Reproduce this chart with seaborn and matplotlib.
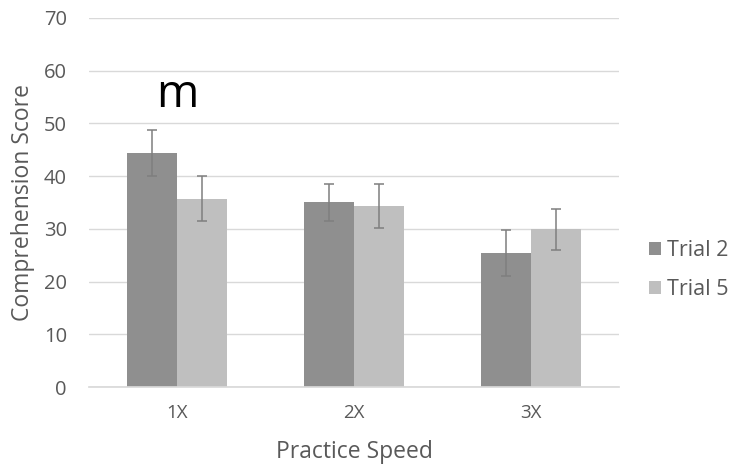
import matplotlib
matplotlib.use("Agg")
import matplotlib.pyplot as plt
import seaborn as sns
import pandas as pd
import numpy as np

categories = ["1X", "2X", "3X"]
series_names = ["Trial 2", "Trial 5"]
trial2 = [44.4, 35.0, 25.4]
trial5 = [35.7, 34.3, 29.9]
trial2_err = [4.4, 3.5, 4.4]
trial5_err = [4.3, 4.2, 3.9]
yticks = [0, 10, 20, 30, 40, 50, 60, 70]

df = pd.DataFrame({
    "Practice Speed": categories * 2,
    "Comprehension Score": trial2 + trial5,
    "Series": [series_names[0]] * 3 + [series_names[1]] * 3,
})

sns.set_theme(style="white")
plt.rcParams["font.family"] = ["Open Sans", "DejaVu Sans"]
text_color = "#595959"

fig = plt.figure(figsize=(7.36, 4.68), dpi=100)
ax = fig.add_axes([0.121, 0.173, 0.72, 0.789])

palette = {"Trial 2": "#8f8f8f", "Trial 5": "#bfbfbf"}
sns.barplot(data=df, x="Practice Speed", y="Comprehension Score", hue="Series",
            palette=palette, width=0.566, errorbar=None, ax=ax, saturation=1,
            linewidth=0)

errs = {"Trial 2": trial2_err, "Trial 5": trial5_err}
vals = {"Trial 2": trial2, "Trial 5": trial5}
for cont, name in zip(ax.containers, series_names):
    xs = [p.get_x() + p.get_width() / 2 for p in cont.patches]
    ax.errorbar(xs, vals[name], yerr=errs[name], fmt="none", ecolor="#7f7f7f",
                elinewidth=1.1, capsize=3.5, capthick=1.1, zorder=3)

ax.set_ylim(0, 70)
ax.set_yticks(yticks)
ax.set_xlim(-0.5, 2.5)
ax.yaxis.grid(True, color="#d9d9d9", linewidth=1)
ax.set_axisbelow(True)
for s in ax.spines.values():
    s.set_visible(False)
ax.spines["bottom"].set_visible(True)
ax.spines["bottom"].set_color("#d9d9d9")
ax.tick_params(axis="x", length=0, labelsize=13.5, colors=text_color, pad=12)
ax.tick_params(axis="y", length=0, labelsize=14.5, colors=text_color, pad=16)
ax.set_xlabel("Practice Speed", fontsize=16.5, color=text_color, labelpad=13)
ax.set_ylabel("Comprehension Score", fontsize=16.5, color=text_color, labelpad=6)

ax.text(0, 53.1, "m", fontsize=33, color="black", ha="center", va="baseline")

leg = ax.legend(loc="center left", bbox_to_anchor=(1.02, 0.317), frameon=False,
                fontsize=15.5, labelcolor=text_color, handlelength=0.55,
                handleheight=0.55, handletextpad=0.3, labelspacing=0.85)

fig.savefig("out.png", dpi=100)
